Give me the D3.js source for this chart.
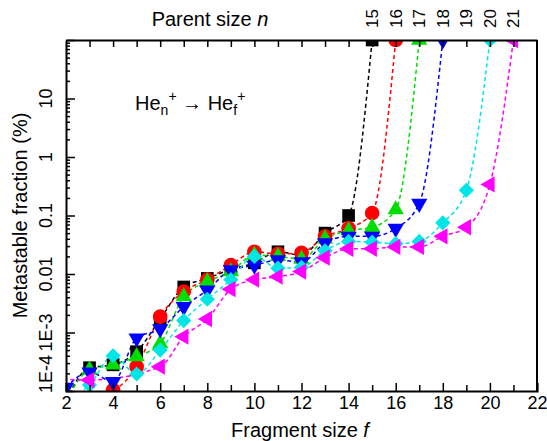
<!DOCTYPE html>
<html>
<head>
<meta charset="utf-8">
<script src="https://cdn.jsdelivr.net/npm/d3@7"></script>
<style>
  body { margin: 0; background: #fff; }
  svg { font-family: "Liberation Sans", Arial, sans-serif; }
  .axis path, .axis line { stroke: #000; }
  .axis path { stroke-width: 2; }
  .axis line { stroke-width: 1.5; }
  .axis text { font-size: 18px; fill: #000; }
</style>
</head>
<body>
<div id="chart"></div>
<script>

// parent sizes and their fragment series (fragment size f, fraction in %)
const parentSizes = [15, 16, 17, 18, 19, 20, 21];
const seriesNames = [15, 16, 17, 18, 20, 21];
const seriesColors = ["#000000", "#ff0000", "#00dd00", "#0000ff", "#00e5e5", "#ff00ff"];
const seriesSymbols = ["square", "circle", "triangleUp", "triangleDown", "diamond", "triangleLeft"];

const frag15 = [2, 3, 4, 5, 6, 7, 8, 9, 10, 11, 12, 13, 14, 15];
const vals15 = [0.7e-4, 2.5e-4, 2.8e-4, 4.7e-4, 1.7e-3, 6e-3, 8.4e-3, 0.012, 0.0155, 0.024, 0.021, 0.05, 0.1, 100];

const frag16 = [2, 4, 5, 6, 7, 8, 9, 10, 11, 12, 13, 14, 15, 16];
const vals16 = [0.7e-4, 1.04e-4, 2.6e-4, 1.86e-3, 5e-3, 8e-3, 0.0142, 0.024, 0.022, 0.023, 0.044, 0.06, 0.11, 100];

const frag17 = [2, 3, 4, 5, 6, 7, 8, 9, 10, 11, 12, 13, 14, 15, 16, 17];
const vals17 = [0.7e-4, 2.3e-4, 2.8e-4, 3.9e-4, 6.5e-4, 4.1e-3, 7.4e-3, 0.011, 0.021, 0.02, 0.018, 0.04, 0.055, 0.063, 0.126, 100];

const frag18 = [2, 3, 4, 5, 6, 7, 8, 9, 10, 11, 12, 13, 14, 15, 16, 17, 18];
const vals18 = [1.15e-4, 2.1e-4, 1.44e-4, 8e-4, 1.15e-3, 2.75e-3, 5.3e-3, 0.0117, 0.014, 0.0173, 0.016, 0.034, 0.044, 0.044, 0.06, 0.16, 100];

const frag20 = [2, 3, 4, 5, 6, 7, 8, 9, 10, 11, 12, 13, 14, 15, 16, 17, 18, 19, 20];
const vals20 = [0.7e-4, 1.27e-4, 4e-4, 1.95e-4, 5e-4, 1.6e-3, 3.7e-3, 8e-3, 0.02, 0.0126, 0.013, 0.025, 0.036, 0.035, 0.033, 0.036, 0.075, 0.27, 100];

const frag21 = [1, 3, 6, 7, 8, 9, 10, 11, 12, 13, 14, 15, 16, 17, 18, 19, 20, 21];
const vals21 = [1.7e-4, 1.54e-4, 2.6e-4, 8.5e-4, 1.7e-3, 5.5e-3, 8e-3, 9e-3, 0.011, 0.019, 0.027, 0.027, 0.029, 0.029, 0.044, 0.063, 0.34, 100];

const yMajorTicks = [1e-4, 1e-3, 1e-2, 1e-1, 1, 10, 100];
const yTickLabels = ["1E-4", "1E-3", "0.01", "0.1", "1", "10", ""];

const fragments = [frag15, frag16, frag17, frag18, frag20, frag21];
const values = [vals15, vals16, vals17, vals18, vals20, vals21];

/*
DIMENSIONS
*/
const width = 547;
const height = 441;
const margin = {top: 40, left: 66, right: 10, bottom: 50};

const svg = d3.select("#chart")
    .append("svg")
    .attr("width", width)
    .attr("height", height);

const xScale = d3.scaleLinear()
    .domain([2, 22])
    .range([margin.left, width - margin.right]);

const yScale = d3.scaleLog()
    .domain([1e-4, 100])
    .range([height - margin.bottom, margin.top]);

svg.append("clipPath")
    .attr("id", "plotClip")
  .append("rect")
    .attr("x", margin.left)
    .attr("y", margin.top)
    .attr("width", width - margin.left - margin.right)
    .attr("height", height - margin.top - margin.bottom);

/*
LINES AND MARKERS
*/
const plot = svg.append("g").attr("clip-path", "url(#plotClip)");

const line = d3.line()
    .x(function(d) { return xScale(d.f); })
    .y(function(d) { return yScale(d.v); })
    .curve(d3.curveMonotoneX);

const symbolPaths = {
    square: d3.symbol().type(d3.symbolSquare).size(160)(),
    circle: d3.symbol().type(d3.symbolCircle).size(170)(),
    triangleUp: d3.symbol().type(d3.symbolTriangle).size(115)(),
    triangleDown: d3.symbol().type(d3.symbolTriangle).size(115)(),
    diamond: d3.symbol().type(d3.symbolSquare).size(115)(),
    triangleLeft: d3.symbol().type(d3.symbolTriangle).size(115)()
};
const symbolRotate = {square: 0, circle: 0, triangleUp: 0, triangleDown: 180, diamond: 45, triangleLeft: -90};

seriesNames.forEach(function(n, i) {
    const pts = fragments[i].map(function(f, j) { return {f: f, v: values[i][j]}; });

    plot.append("path")
        .datum(pts)
        .attr("fill", "none")
        .attr("stroke", seriesColors[i])
        .attr("stroke-width", 1.5)
        .attr("stroke-dasharray", "4,3")
        .attr("d", line);
});

seriesNames.forEach(function(n, i) {
    const pts = fragments[i].map(function(f, j) { return {f: f, v: values[i][j]}; });
    const sym = seriesSymbols[i];

    plot.selectAll(null)
        .data(pts)
        .enter()
        .append("path")
        .attr("d", symbolPaths[sym])
        .attr("fill", seriesColors[i])
        .attr("transform", function(d) {
            return `translate(${xScale(d.f)},${yScale(d.v)}) rotate(${symbolRotate[sym]})`;
        });
});

/*
AXES
*/
const bottom = height - margin.bottom;

svg.append("g")
    .attr("class", "axis")
    .attr("transform", `translate(0,${bottom})`)
    .call(d3.axisBottom(xScale).tickValues(d3.range(2, 23, 2)).tickSize(-8).tickPadding(5).tickFormat(d3.format("d")));

svg.append("g")
    .attr("class", "axis")
    .attr("transform", `translate(0,${bottom})`)
    .call(d3.axisBottom(xScale).tickValues(d3.range(3, 22, 2)).tickSize(-6).tickFormat(""))
    .select(".domain").remove();

svg.append("g")
    .attr("class", "axis")
    .attr("transform", `translate(0,${margin.top})`)
    .call(d3.axisTop(xScale).tickValues(d3.range(3, 22)).tickSize(-7).tickSizeOuter(0).tickFormat(""));

// parent size labels on the top axis
svg.append("g")
    .selectAll("text")
    .data(parentSizes)
    .enter()
    .append("text")
    .attr("transform", function(d) { return `translate(${xScale(d) + 6},${margin.top - 12}) rotate(-90)`; })
    .attr("text-anchor", "start")
    .attr("font-size", 17)
    .text(function(d) { return d; });

// left axis with log minor ticks
const yMinor = [];
for (let e = -4; e < 2; e++) {
    for (let m = 2; m <= 9; m++) yMinor.push(m * Math.pow(10, e));
}

svg.append("g")
    .attr("class", "axis")
    .attr("transform", `translate(${margin.left},0)`)
    .call(d3.axisLeft(yScale).tickValues(yMajorTicks).tickSize(-9).tickSizeOuter(0).tickFormat(""));

svg.append("g")
    .attr("class", "axis")
    .attr("transform", `translate(${margin.left},0)`)
    .call(d3.axisLeft(yScale).tickValues(yMinor).tickSize(-4).tickFormat(""))
    .select(".domain").remove();

svg.append("g")
    .selectAll("text")
    .data(yMajorTicks)
    .enter()
    .append("text")
    .attr("transform", function(d) { return `translate(${margin.left - 14},${d === 1e-4 ? yScale(d) + 2 : yScale(d)}) rotate(-90)`; })
    .attr("text-anchor", function(d) { return d === 1e-4 ? "start" : "middle"; })
    .attr("font-size", 18)
    .text(function(d, i) { return yTickLabels[i]; });

// right border
svg.append("line")
    .attr("x1", width - margin.right).attr("x2", width - margin.right)
    .attr("y1", margin.top).attr("y2", bottom)
    .attr("stroke", "#000")
    .attr("stroke-width", 2);

/*
TITLES
*/
const topTitle = svg.append("text")
    .attr("x", 210)
    .attr("y", 26)
    .attr("text-anchor", "middle")
    .attr("font-size", 20);
topTitle.append("tspan").text("Parent size ");
topTitle.append("tspan").attr("font-style", "italic").text("n");

const xTitle = svg.append("text")
    .attr("x", 300)
    .attr("y", 437)
    .attr("text-anchor", "middle")
    .attr("font-size", 20);
xTitle.append("tspan").text("Fragment size ");
xTitle.append("tspan").attr("font-style", "italic").text("f");

svg.append("text")
    .attr("transform", `translate(27,${(margin.top + bottom) / 2}) rotate(-90)`)
    .attr("text-anchor", "middle")
    .attr("font-size", 20)
    .text("Metastable fraction (%)");

// reaction label
const react = svg.append("text")
    .attr("x", 135)
    .attr("y", 110)
    .attr("font-size", 20);
react.append("tspan").text("He");
react.append("tspan").attr("font-size", 14).attr("dy", 5).text("n");
react.append("tspan").attr("font-size", 14).attr("dy", -14).text("+");
react.append("tspan").attr("dy", 9).text(" \u2192 He");
react.append("tspan").attr("font-size", 14).attr("dy", 5).text("f");
react.append("tspan").attr("font-size", 14).attr("dy", -14).text("+");

</script>
</body>
</html>
